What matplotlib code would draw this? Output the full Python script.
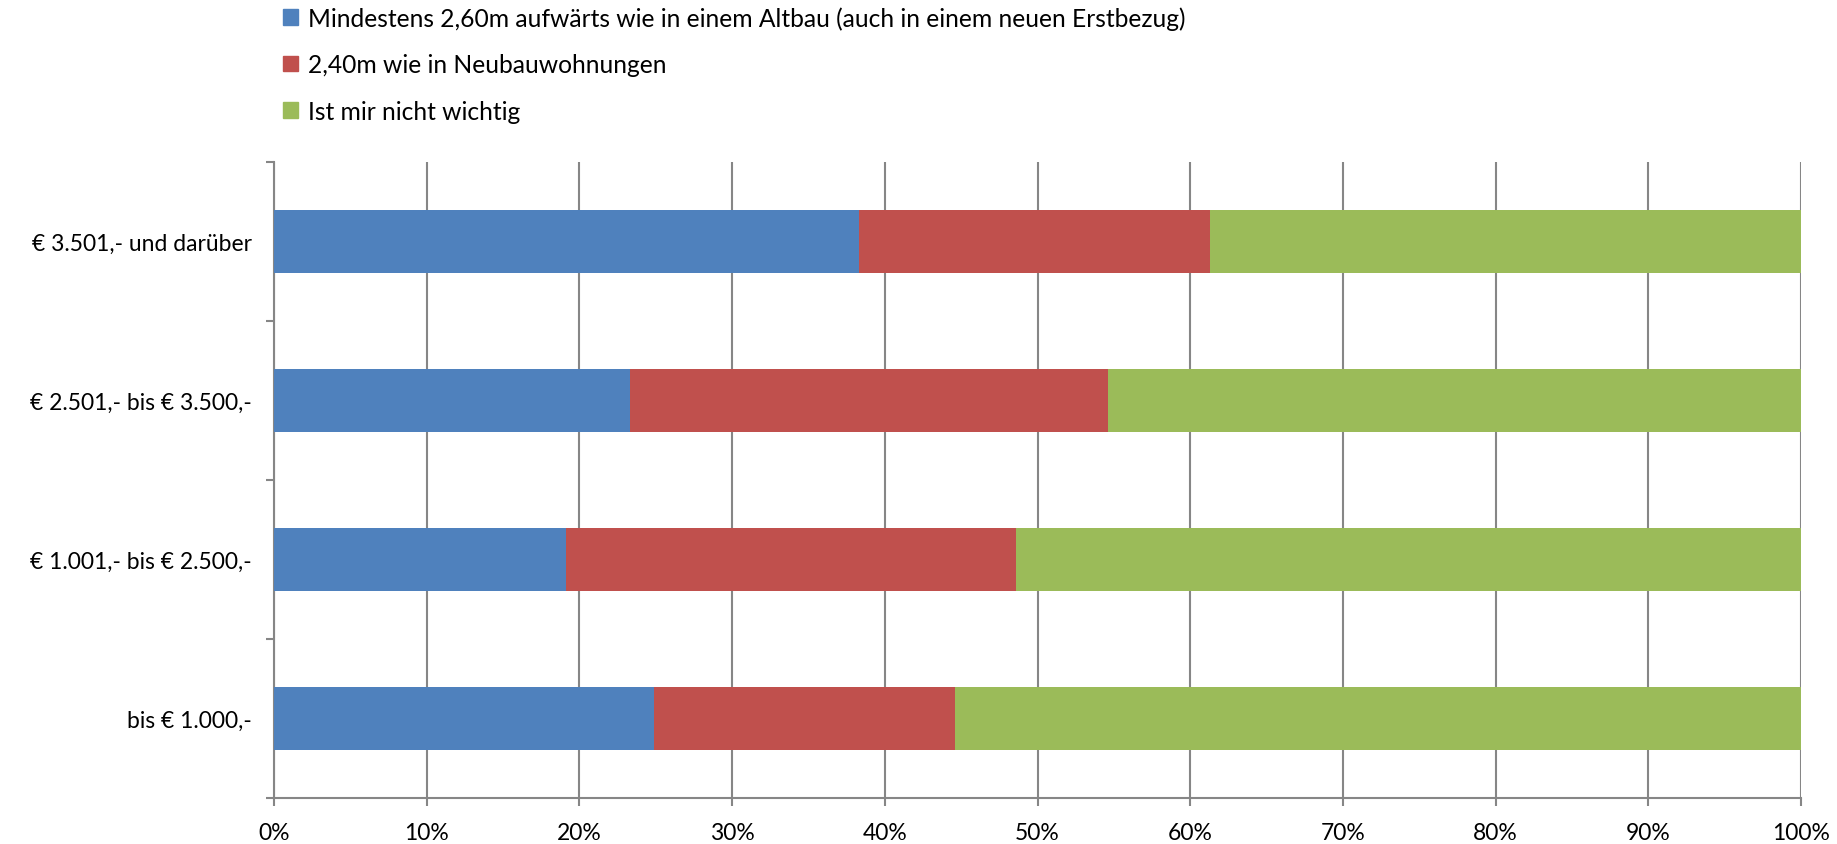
import matplotlib.pyplot as plt
import numpy as np
from matplotlib.patches import Patch

plt.rcParams['font.family'] = ['Lato', 'DejaVu Sans']

categories = ['bis € 1.000,-', '€ 1.001,- bis € 2.500,-', '€ 2.501,- bis € 3.500,-', '€ 3.501,- und darüber']
series = ['Mindestens 2,60m aufwärts wie in einem Altbau (auch in einem neuen Erstbezug)',
          '2,40m wie in Neubauwohnungen',
          'Ist mir nicht wichtig']
altbau = [24.9, 19.1, 23.3, 38.3]
neubau = [19.7, 29.5, 31.3, 23.0]
egal = [55.4, 51.4, 45.4, 38.7]
colors = ['#4F81BD', '#C0504D', '#9BBB59']
grey = '#868686'

fig = plt.figure(figsize=(18.37, 8.45), dpi=100)
ax = fig.add_axes([0.1492, 0.0544, 0.8312, 0.7527])

y = np.arange(len(categories))
left = np.zeros(len(categories))
for vals, c in zip([altbau, neubau, egal], colors):
    ax.barh(y, vals, left=left, height=0.4, color=c, zorder=3)
    left += np.array(vals)

ax.set_xlim(0, 100)
ax.set_ylim(-0.5, 3.5)
ax.set_xticks(np.arange(0, 101, 10))
ax.set_xticklabels([f'{v}%' for v in range(0, 101, 10)], fontsize=16.5)
ax.xaxis.grid(True, color=grey, linewidth=1.5, zorder=0)

# category ticks at boundaries, labels in between
ax.set_yticks(np.arange(-0.5, 3.6, 1))
ax.set_yticklabels([])
ax.set_yticks(y, minor=True)
ax.set_yticklabels(categories, minor=True, fontsize=16.5)
ax.tick_params(axis='y', which='minor', length=0, pad=16)
ax.tick_params(axis='y', which='major', length=6, width=1.5, color=grey)
ax.tick_params(axis='x', length=6, width=1.5, color=grey, pad=11)

for s in ['top', 'right']:
    ax.spines[s].set_visible(False)
for s in ['left', 'bottom']:
    ax.spines[s].set_color(grey)
    ax.spines[s].set_linewidth(1.5)

handles = [Patch(color=c) for c in colors]
fig.legend(handles, series, loc='upper left', bbox_to_anchor=(0.150, 1.0),
           frameon=False, fontsize=17.7, handlelength=0.6, handleheight=0.6,
           handletextpad=0.4, labelspacing=0.95, borderaxespad=0, borderpad=0.3)

fig.savefig('out.png', dpi=100)
